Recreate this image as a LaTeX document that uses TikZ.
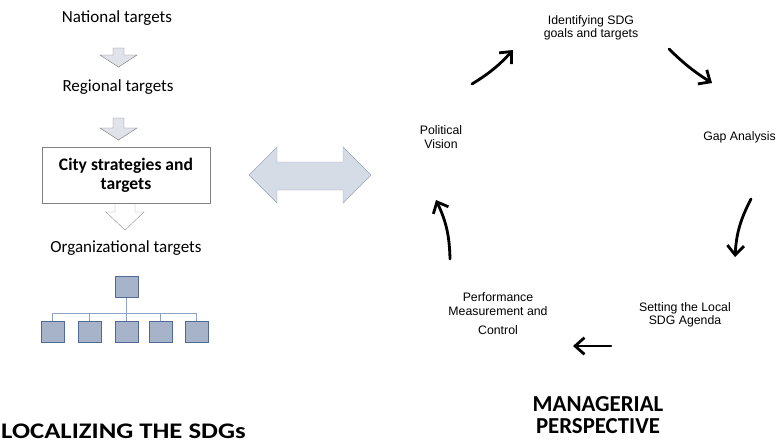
\documentclass[tikz,border=0pt]{standalone}
\usepackage{fontspec}
\setmainfont{Carlito}
\newfontfamily\arialfont{Liberation Sans}
\newfontfamily\widefont[FakeStretch=1.2]{Carlito}
\usepackage{tikz}
\usetikzlibrary{positioning, arrows.meta, calc}
\definecolor{arrowgray}{RGB}{224,228,234}
\definecolor{rimgray}{RGB}{128,128,128}
\definecolor{orgfill}{RGB}{167,179,200}
\definecolor{orgrim}{RGB}{79,107,149}
\definecolor{orgwire}{RGB}{143,163,196}
\definecolor{dblfill}{RGB}{214,220,230}
\definecolor{dblrim}{RGB}{151,166,189}
\tikzset{
  level/.style={inner sep=0, font=\fontsize{14.5}{16}\selectfont},
  citybox/.style={draw=rimgray, fill=white, minimum width=5.04cm, minimum height=1.68cm,
    align=center, font=\fontsize{15}{16.5}\selectfont\bfseries},
  orgbox/.style={draw=orgrim, fill=orgfill, minimum width=0.69cm, minimum height=0.62cm, inner sep=0},
  orgline/.style={draw=orgwire, line width=0.8pt},
  stage/.style={align=center, inner sep=0, font=\arialfont\fontsize{10.5}{11.5}\selectfont},
  cycle/.style={->, line width=2.4pt, line cap=round},
  heading/.style={align=center, inner sep=0, font=\fontsize{19.5}{18.5}\selectfont\bfseries}
}

\begin{document}
\begin{tikzpicture}[x=0.03cm, y=-0.03cm, >={Straight Barb[length=2.8mm,width=5mm]}]
\useasboundingbox (0,0) rectangle (777,444);

% localizing side
\node [level] (national) at (117,18) {National targets};
\draw[draw=rimgray, fill=arrowgray] (113,48) -- (124,48) -- (124,55) -- (137,55) -- (118.5,67) -- (100,55) -- (113,55) -- cycle;
\node [level] (regional) at (118,87) {Regional targets};
\draw[draw=rimgray, fill=arrowgray] (113,118) -- (124,118) -- (124,128) -- (137,128) -- (118.5,140) -- (100,128) -- (113,128) -- cycle;

\draw[draw=rimgray!80, fill=white] (115,203) -- (135,203) -- (135,212) -- (144,212) -- (125,230) -- (106,212) -- (115,212) -- cycle;
\node [citybox] (city) at (126,175) {City strategies and\\targets};

\node [level] (org) at (126,248) {Organizational targets};

\node [orgbox] (orgtop) at (126.5,287) {};
\coordinate (bus) at (126.5,313);
\foreach \i/\x in {1/52.5, 2/89.5, 3/126.5, 4/160.5, 5/196.5}
  \node [orgbox] (org\i) at (\x,331.5) {};
\draw[orgline] (orgtop.south) -- (bus);
\draw[orgline] (org1.north |- bus) -- (org5.north |- bus);
\foreach \i in {1,...,5}
  \draw[orgline] (org\i.north |- bus) -- (org\i.north);

\node [heading, font=\widefont\fontsize{19}{18}\selectfont\bfseries, anchor=west] (localizing) at (1,431) {LOCALIZING THE SDGs};

% link between the two sides
\draw[draw=dblrim, fill=dblfill] (249,175) -- (277,147) -- (277,162) -- (343,162) -- (343,147) -- (371,175)
  -- (343,203) -- (343,190) -- (277,190) -- (277,203) -- cycle;

% managerial cycle
\node [stage] (identify) at (591,28) {Identifying SDG\\goals and targets};
\node [stage, anchor=east] (gap) at (776,137) {Gap Analysis};
\node [stage] (agenda) at (685,315) {Setting the Local\\SDG Agenda};
\node [stage] (perform) at (498,314) {Performance\\Measurement and\\[5pt]Control};
\node [stage] (political) at (441,137) {Political\\Vision};

\coordinate (c1s) at (472,84);  \coordinate (c1e) at (513,50);
\coordinate (c2s) at (669,49);  \coordinate (c2e) at (712,83);
\coordinate (c3s) at (751,199); \coordinate (c3e) at (735,257);
\coordinate (c4s) at (611,346); \coordinate (c4e) at (573,346);
\coordinate (c5s) at (450,259); \coordinate (c5e) at (436,200);
\draw[cycle] (c1s) to[bend right=8] (c1e);
\draw[cycle] (c2s) to[bend right=6] (c2e);
\draw[cycle] (c3s) to[bend right=12] (c3e);
\draw[cycle] (c4s) -- (c4e);
\draw[cycle] (c5s) to[bend right=12] (c5e);

\node [heading] (managerial) at (598,415) {MANAGERIAL\\PERSPECTIVE};
\end{tikzpicture}
\end{document}
